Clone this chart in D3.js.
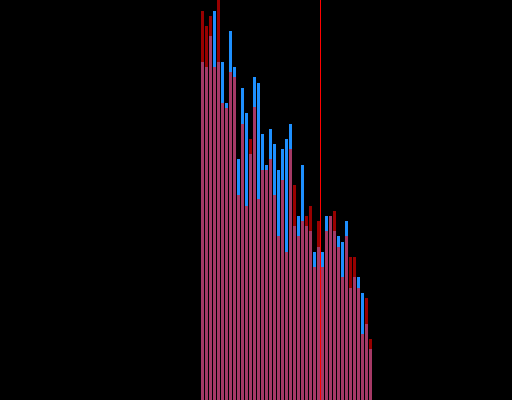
<!DOCTYPE html>
<html>
<head>
<meta charset="utf-8">
<script src="https://cdn.jsdelivr.net/npm/d3@7"></script>
<style>
  html, body { margin: 0; padding: 0; background: #000; }
  svg { display: block; }
</style>
</head>
<body>
<div id="chart"></div>
<script>
// bar values, one per category (0..42)
var redValues = [97.25, 93.5, 96, 83.25, 100.5, 74.25, 73, 82, 80.75, 51.25,
    69, 48.5, 65.25, 73.25, 50.25, 57.5, 57.5, 60.25, 51.25, 41,
    55, 37, 62.75, 53.75, 41, 44.75, 46, 48.5, 33.25, 44.75,
    33.25, 42.25, 46, 47.25, 38.25, 30.75, 41, 35.75, 35.75, 28,
    16.5, 25.5, 15.25];
var blueValues = [84.5, 83.25, 91, 97.25, 84.5, 84.5, 74.25, 92.25, 83.25, 60.25,
    78, 71.75, 61.5, 80.75, 79.25, 66.5, 58.75, 67.75, 64, 57.5,
    62.75, 65.25, 69, 43.5, 46, 58.75, 43.5, 42.25, 37, 38.25,
    37, 46, 46, 42.25, 41, 39.5, 44.75, 28, 30.75, 30.75,
    26.75, 19, 12.75];
var categories = d3.range(redValues.length);
var markerIndex = 30;   // vertical marker sits just before this bar

var width = 512, height = 400;

var svg = d3.select("#chart").append("svg")
    .attr("width", width)
    .attr("height", height)
    .style("background", "#000");

// step of 4px, bars 3px wide
var xScale = d3.scaleBand()
    .domain(categories)
    .range([201, 372])
    .paddingInner(0.25)
    .paddingOuter(0);

var yScale = d3.scaleLinear()
    .domain([0, 100])
    .range([height, 0]);

// blue series underneath, opaque
svg.append("g").selectAll("rect")
    .data(blueValues)
    .enter()
    .append("rect")
    .attr("x", function(d, i) { return xScale(i); })
    .attr("y", function(d) { return yScale(d); })
    .attr("width", xScale.bandwidth())
    .attr("height", function(d) { return height - yScale(d); })
    .attr("fill", "#1e90ff");

// red series on top, semi transparent
svg.append("g").selectAll("rect")
    .data(redValues)
    .enter()
    .append("rect")
    .attr("x", function(d, i) { return xScale(i); })
    .attr("y", function(d) { return yScale(d); })
    .attr("width", xScale.bandwidth())
    .attr("height", function(d) { return height - yScale(d); })
    .attr("fill", "red")
    .attr("fill-opacity", 0.6);

// marker line, in the gap before markerIndex
var gap = xScale.step() - xScale.bandwidth();
var mx = xScale(markerIndex) - gap / 2;
svg.append("line")
    .attr("x1", mx)
    .attr("x2", mx)
    .attr("y1", 0)
    .attr("y2", height)
    .attr("stroke", "red")
    .attr("stroke-width", 1);
</script>
</body>
</html>
